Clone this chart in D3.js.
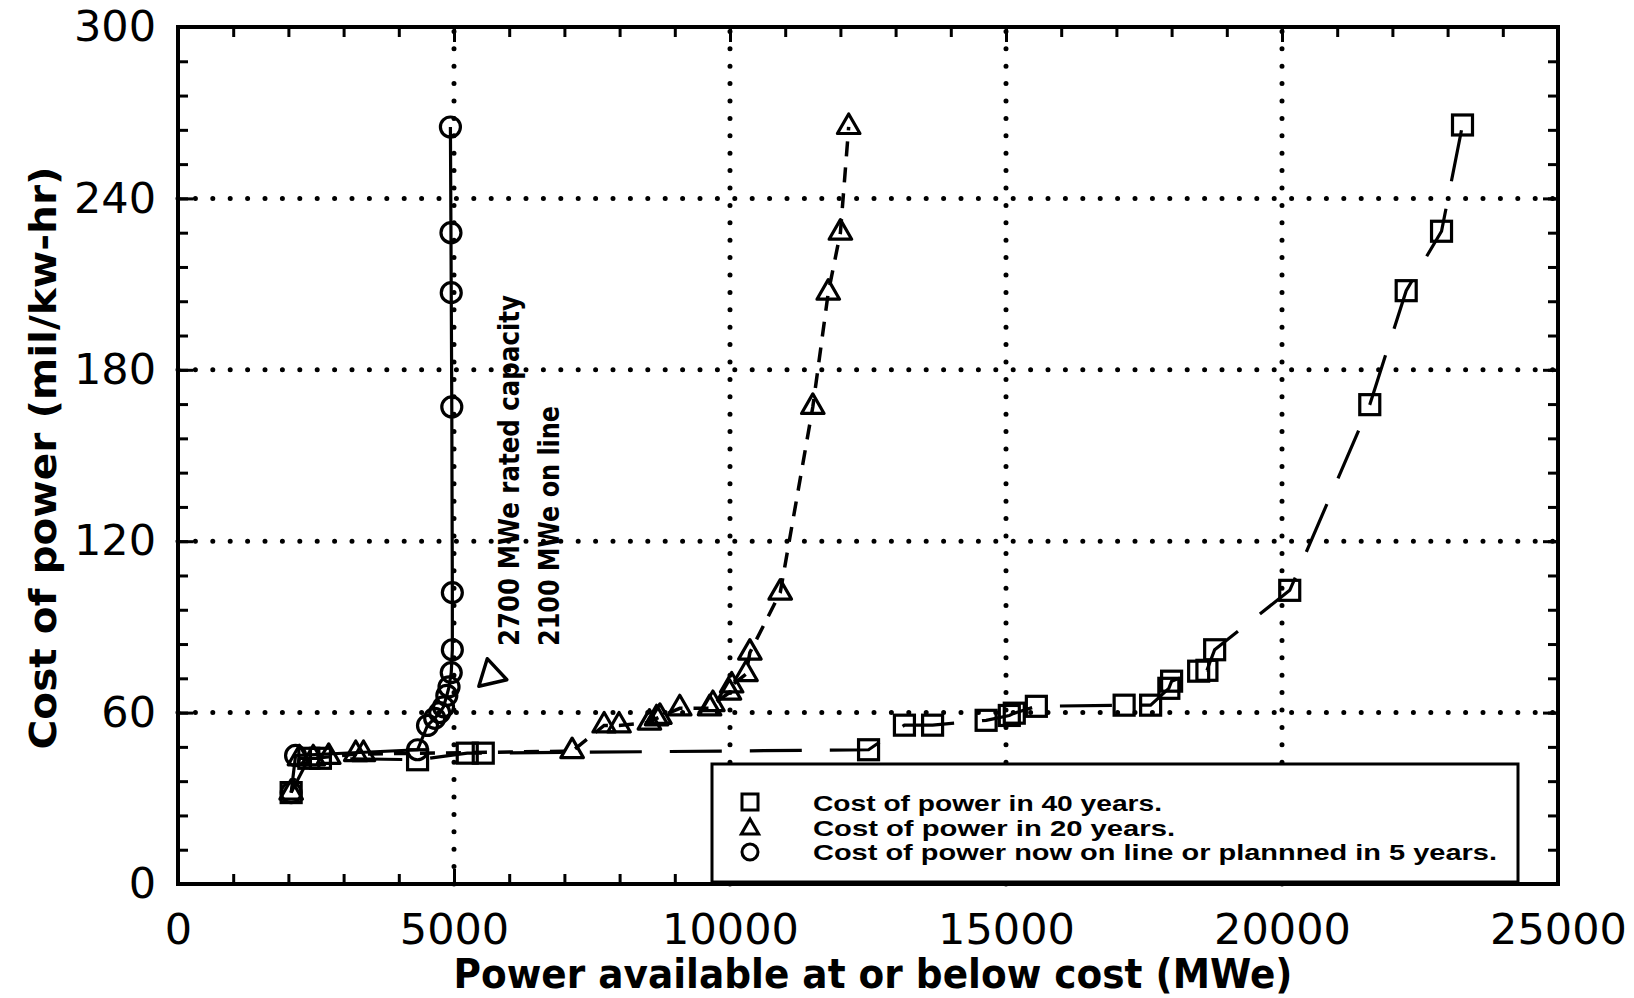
<!DOCTYPE html>
<html>
<head>
<meta charset="utf-8">
<script src="https://d3js.org/d3.v7.min.js"></script>
<style>
  body { margin: 0; background: #fff; }
  svg { display: block; }
</style>
</head>
<body>
<script>
// tick labels
var xTicks = [0, 5000, 10000, 15000, 20000, 25000];
var yTicks = [0, 60, 120, 180, 240, 300];

// cost of power now on line or planned in 5 years (circles, solid)
var circleX = [2050, 2130, 4340, 4520, 4650, 4740, 4810, 4870, 4910, 4950, 4970, 4970, 4960, 4950, 4945, 4935];
var circleY = [32, 45, 47, 55.5, 58, 60, 62, 66, 69, 74, 82, 102, 167, 207, 228, 265];

// cost of power in 20 years (triangles, short dashes)
var triX = [2050, 2200, 2450, 2730, 3220, 3360, 7140, 7720, 7990, 8540, 8670, 8730, 9090, 9630, 9690, 9990, 10030, 10290, 10360, 10910, 11500, 11780, 12000, 12150];
var triY = [32, 44, 44, 44.5, 45.5, 45.5, 46.5, 55.5, 55.5, 56.5, 58, 58.5, 61.5, 61.5, 63, 67, 69.5, 73.5, 81, 102, 167, 207, 228, 265];

// cost of power in 40 years (squares, long dashes)
var sqX = [2050, 2370, 2580, 4340, 5240, 5530, 12510, 13160, 13670, 14640, 15060, 15150, 15550, 17140, 17620, 17950, 18000, 18490, 18640, 18780, 20140, 21590, 22250, 22890, 23270];
var sqY = [32, 44, 44, 43.5, 45.8, 45.8, 47, 55.6, 55.6, 57.3, 59, 59.8, 62.2, 62.6, 62.6, 68.5, 71, 74.5, 74.8, 82, 102.8, 167.8, 207.7, 228.5, 265.7];

var legendLabels = ["Cost of power in 40 years.", "Cost of power in 20 years.", "Cost of power now on line or plannned in 5 years."];
var noteLines = ["2700 MWe rated capacity", "2100 MWe on line"];
var notePoint = [5670, 73.2];

var w = 1634, h = 998;
var plotL = 178, plotR = 1558, plotT = 27, plotB = 884;

var svg = d3.select('body').append('svg')
    .attr('width', w)
    .attr('height', h);

var x = d3.scaleLinear().domain([0, 25000]).range([plotL, plotR]);
var y = d3.scaleLinear().domain([0, 300]).range([plotB, plotT]);

// dotted grid
svg.append('g').selectAll('line')
    .data(xTicks.slice(1, -1))
    .enter().append('line')
    .attr('x1', d => x(d)).attr('x2', d => x(d))
    .attr('y1', plotB).attr('y2', plotT)
    .attr('stroke', '#000').attr('stroke-width', 5)
    .attr('stroke-linecap', 'round').attr('stroke-dasharray', '0 17.4');

svg.append('g').selectAll('line')
    .data(yTicks.slice(1, -1))
    .enter().append('line')
    .attr('y1', d => y(d)).attr('y2', d => y(d))
    .attr('x1', plotL).attr('x2', plotR)
    .attr('stroke', '#000').attr('stroke-width', 5)
    .attr('stroke-linecap', 'round').attr('stroke-dasharray', '0 17.4');

// axes, ticks inside on all four sides
function addAxis(axis, tr) {
    var g = svg.append('g').attr('transform', tr).call(axis);
    g.select('.domain').remove();
    g.selectAll('.tick line').attr('stroke', '#000').attr('stroke-width', 3);
    g.selectAll('.tick text')
        .attr('fill', '#000')
        .style('font-family', 'DejaVu Sans, sans-serif')
        .style('font-size', '43px');
    return g;
}

var xMinor = d3.range(0, 25001, 1000);
var yMinor = d3.range(0, 301, 12);

addAxis(d3.axisBottom(x).tickValues(xMinor).tickSize(-10).tickFormat(''), 'translate(0,' + plotB + ')');
addAxis(d3.axisTop(x).tickValues(xMinor).tickSize(-10).tickFormat(''), 'translate(0,' + plotT + ')');
addAxis(d3.axisLeft(y).tickValues(yMinor).tickSize(-10).tickFormat(''), 'translate(' + plotL + ',0)');
addAxis(d3.axisRight(y).tickValues(yMinor).tickSize(-10).tickFormat(''), 'translate(' + plotR + ',0)');

addAxis(d3.axisBottom(x).tickValues(xTicks).tickSize(-15).tickPadding(29).tickFormat(d3.format('d')), 'translate(0,' + plotB + ')');
addAxis(d3.axisTop(x).tickValues(xTicks).tickSize(-15).tickFormat(''), 'translate(0,' + plotT + ')');
addAxis(d3.axisLeft(y).tickValues(yTicks).tickSize(-15).tickPadding(22).tickFormat(d3.format('d')), 'translate(' + plotL + ',0)');
addAxis(d3.axisRight(y).tickValues(yTicks).tickSize(-15).tickFormat(''), 'translate(' + plotR + ',0)');

// frame
svg.append('rect')
    .attr('x', plotL).attr('y', plotT)
    .attr('width', plotR - plotL).attr('height', plotB - plotT)
    .attr('fill', 'none').attr('stroke', '#000').attr('stroke-width', 4);

// series
var line = d3.line().x(d => x(d[0])).y(d => y(d[1]));

var circles = d3.zip(circleX, circleY);
var triangles = d3.zip(triX, triY);
var squares = d3.zip(sqX, sqY);

svg.append('path').datum(squares).attr('d', line)
    .attr('fill', 'none').attr('stroke', '#000').attr('stroke-width', 3.2)
    .attr('stroke-dasharray', '52 28');

svg.append('path').datum(triangles).attr('d', line)
    .attr('fill', 'none').attr('stroke', '#000').attr('stroke-width', 3.5)
    .attr('stroke-dasharray', '15 11');

svg.append('path').datum(circles).attr('d', line)
    .attr('fill', 'none').attr('stroke', '#000').attr('stroke-width', 3.2);

svg.append('g').selectAll('rect')
    .data(squares).enter().append('rect')
    .attr('x', d => x(d[0]) - 10).attr('y', d => y(d[1]) - 10)
    .attr('width', 20).attr('height', 20)
    .attr('fill', 'none').attr('stroke', '#000').attr('stroke-width', 3.2);

var triSym = d3.symbol().type(d3.symbolTriangle).size(220);
svg.append('g').selectAll('path')
    .data(triangles).enter().append('path')
    .attr('d', triSym)
    .attr('transform', d => 'translate(' + x(d[0]) + ',' + y(d[1]) + ')')
    .attr('fill', 'none').attr('stroke', '#000').attr('stroke-width', 3.2)
    .attr('stroke-linejoin', 'round');

svg.append('g').selectAll('circle')
    .data(circles).enter().append('circle')
    .attr('cx', d => x(d[0])).attr('cy', d => y(d[1]))
    .attr('r', 10)
    .attr('fill', 'none').attr('stroke', '#000').attr('stroke-width', 3.2);

// annotation
svg.append('path')
    .attr('d', d3.symbol().type(d3.symbolTriangle).size(360))
    .attr('transform', 'translate(' + x(notePoint[0]) + ',' + y(notePoint[1]) + ') rotate(-133)')
    .attr('fill', 'none').attr('stroke', '#000').attr('stroke-width', 3.4)
    .attr('stroke-linejoin', 'round');

var noteLen = [351, 240];
svg.selectAll('.note')
    .data(noteLines).enter().append('text')
    .attr('class', 'note')
    .attr('transform', (d, i) => 'translate(' + (519 + i * 40) + ',646) rotate(-90)')
    .attr('textLength', (d, i) => noteLen[i])
    .attr('lengthAdjust', 'spacingAndGlyphs')
    .style('font-family', 'DejaVu Sans, sans-serif')
    .style('font-size', '28px')
    .style('font-weight', 'bold')
    .text(d => d);

// legend
var lg = svg.append('g');
lg.append('rect')
    .attr('x', 712).attr('y', 764).attr('width', 806).attr('height', 118)
    .attr('fill', '#fff').attr('stroke', '#000').attr('stroke-width', 3);

var legLen = [349, 362, 684];
lg.selectAll('text')
    .data(legendLabels).enter().append('text')
    .attr('x', 813)
    .attr('y', (d, i) => 811 + i * 24.5)
    .attr('textLength', (d, i) => legLen[i])
    .attr('lengthAdjust', 'spacingAndGlyphs')
    .style('font-family', 'Liberation Sans, sans-serif')
    .style('font-size', '22px')
    .style('font-weight', '600')
    .text(d => d);

lg.append('rect').attr('x', 742).attr('y', 794).attr('width', 16).attr('height', 16)
    .attr('fill', 'none').attr('stroke', '#000').attr('stroke-width', 3);
lg.append('path').attr('d', d3.symbol().type(d3.symbolTriangle).size(130))
    .attr('transform', 'translate(750,829)')
    .attr('fill', 'none').attr('stroke', '#000').attr('stroke-width', 3);
lg.append('circle').attr('cx', 750).attr('cy', 852).attr('r', 8)
    .attr('fill', 'none').attr('stroke', '#000').attr('stroke-width', 3);

// axis titles
svg.append('text')
    .attr('x', 873).attr('y', 988)
    .attr('text-anchor', 'middle')
    .attr('textLength', 839)
    .attr('lengthAdjust', 'spacingAndGlyphs')
    .style('font-family', 'DejaVu Sans, sans-serif')
    .style('font-size', '40px')
    .style('font-weight', 'bold')
    .text('Power available at or below cost (MWe)');

svg.append('text')
    .attr('transform', 'translate(56,458) rotate(-90)')
    .attr('text-anchor', 'middle')
    .attr('textLength', 583)
    .attr('lengthAdjust', 'spacingAndGlyphs')
    .style('font-family', 'DejaVu Sans, sans-serif')
    .style('font-size', '38px')
    .style('font-weight', 'bold')
    .text('Cost of power (mil/kw-hr)');
</script>
</body>
</html>
